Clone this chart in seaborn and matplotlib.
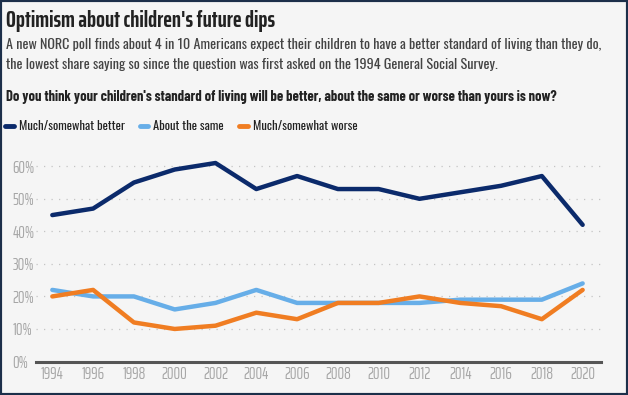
import matplotlib
matplotlib.use("Agg")
import matplotlib.pyplot as plt
import seaborn as sns
import pandas as pd
from matplotlib import font_manager
from matplotlib.patches import Rectangle
from matplotlib.lines import Line2D

years = [1994, 1996, 1998, 2000, 2002, 2004, 2006, 2008, 2010, 2012, 2014, 2016, 2018, 2020]
better = [45, 47, 55, 59, 61, 53, 57, 53, 53, 50, 52, 54, 57, 42]
same = [22, 20, 20, 16, 18, 22, 18, 18, 18, 18, 19, 19, 19, 24]
worse = [20, 22, 12, 10, 11, 15, 13, 18, 18, 20, 18, 17, 13, 22]
series_names = ["Much/somewhat better", "About the same", "Much/somewhat worse"]
yticks = [0, 10, 20, 30, 40, 50, 60]

title = "Optimism about children's future dips"
sub1 = "A new NORC poll finds about 4 in 10 Americans expect their children to have a better standard of living than they do,"
sub2 = "the lowest share saying so since the question was first asked on the 1994 General Social Survey."
question = "Do you think your children's standard of living will be better, about the same or worse than yours is now?"

colors = ["#0b2a6b", "#67aee8", "#f07d22"]

df = pd.DataFrame({
    "year": years * 3,
    "value": better + same + worse,
    "series": [series_names[0]] * len(years) + [series_names[1]] * len(years) + [series_names[2]] * len(years),
})

sns.set_theme(style="white")
fonts = font_manager.fontManager.ttflist
avail = {f.name for f in fonts}
bold_avail = {f.name for f in fonts if isinstance(f.weight, int) and f.weight >= 600}
cands = ["Oswald", "Roboto Condensed", "Sofia Sans Condensed", "Asap Condensed",
         "Saira SemiCondensed", "Liberation Sans Narrow", "Roboto"]
body_font = next((c for c in cands if c in avail), "DejaVu Sans")
bold_cands = ["Oswald", "Barlow Condensed", "Roboto Condensed", "Saira ExtraCondensed",
              "Asap Condensed", "Saira SemiCondensed", "Liberation Sans Narrow", "Roboto"]
bold_font = next((c for c in bold_cands if c in bold_avail), "DejaVu Sans")
title_cands = ["Oswald", "Saira ExtraCondensed", "Barlow Condensed", "Roboto Condensed",
               "Asap Condensed", "Liberation Sans Narrow", "Roboto"]
title_font = next((c for c in title_cands if c in bold_avail), "DejaVu Sans")
tick_cands = ["Saira ExtraCondensed", "Barlow Condensed", "Roboto Condensed"]
tick_font = next((c for c in tick_cands if c in avail), body_font)
plt.rcParams["font.family"] = [body_font, "DejaVu Sans"]

W, H = 628, 395
fig = plt.figure(figsize=(W / 100, H / 100), dpi=100)
bg = "#f5f5f5"
fig.patch.set_facecolor(bg)
renderer = fig.canvas.get_renderer()


def fit(txt, target_px):
    w = txt.get_window_extent(renderer=renderer).width
    txt.set_fontsize(txt.get_fontsize() * target_px / w)
    return txt


ax_left, ax_right = 36, 601
ax_bottom, ax_top = 361.5, 150
ax = fig.add_axes([ax_left / W, 1 - ax_bottom / H, (ax_right - ax_left) / W, (ax_bottom - ax_top) / H])
ax.set_facecolor(bg)

sns.lineplot(data=df, x="year", y="value", hue="series", palette=colors,
             hue_order=series_names, linewidth=3.2, ax=ax, legend=False)

probe = fig.text(0, 0, "2020", fontsize=10, fontweight="normal", family=[tick_font, "DejaVu Sans"])
fit(probe, 25)
tick_fs = probe.get_fontsize()
probe.remove()

ax.set_xlim(1993.2, 2020.9)
ax.set_ylim(0, 65)
ax.set_xticks(years)
ax.set_xticklabels([str(y) for y in years])
ax.set_yticks(yticks)
ax.set_yticklabels([f"{v}%" for v in yticks])
ax.tick_params(axis="both", length=0, labelsize=tick_fs, colors="#a6a6a6")
for lab in ax.get_xticklabels() + ax.get_yticklabels():
    lab.set_fontweight("normal")
    lab.set_family([tick_font, "DejaVu Sans"])
ax.tick_params(axis="x", pad=3)
ax.tick_params(axis="y", pad=2)
for lab in ax.get_yticklabels():
    lab.set_horizontalalignment("left")
    lab.set_x(-0.037)
ax.set_xlabel("")
ax.set_ylabel("")
for v in yticks[1:]:
    ax.axhline(v, color="#c4c4c4", linewidth=0.9, linestyle=(0, (1, 5)), zorder=0)
for s in ["top", "right", "left"]:
    ax.spines[s].set_visible(False)
ax.spines["bottom"].set_color("#555555")
ax.spines["bottom"].set_linewidth(2.2)

t = fig.text(6 / W, 1 - 27 / H, title, fontsize=20, fontweight="bold",
             family=[title_font, "DejaVu Sans"], color="#222222", ha="left", va="baseline")
fit(t, 270)
s1 = fig.text(6 / W, 1 - 49 / H, sub1, fontsize=10.5, color="#444444", ha="left", va="baseline")
fit(s1, 598)
s2 = fig.text(6 / W, 1 - 69 / H, sub2, fontsize=s1.get_fontsize(), color="#444444", ha="left", va="baseline")
q = fig.text(6 / W, 1 - 101 / H, question, fontsize=10, fontweight="bold",
             family=[bold_font, "DejaVu Sans"], color="#222222", ha="left", va="baseline")
fit(q, 550)

probe = fig.text(0, 0, series_names[0], fontsize=9)
fit(probe, 106)
leg_fs = probe.get_fontsize()
probe.remove()

handles = [Line2D([0], [0], color=c, linewidth=3.5) for c in colors]
fig.legend(handles, series_names, loc="center left", bbox_to_anchor=(1 / W, 1 - 126 / H),
           ncol=3, frameon=False, fontsize=leg_fs, handlelength=0.7, handletextpad=0.4,
           columnspacing=1.2, labelcolor="#222222", borderaxespad=0, borderpad=0.3)

fig.add_artist(Rectangle((0, 0), 1, 1, transform=fig.transFigure, fill=False,
                         edgecolor="#1c2f4a", linewidth=3, clip_on=False))

fig.savefig("out.png", dpi=100, facecolor=bg)
